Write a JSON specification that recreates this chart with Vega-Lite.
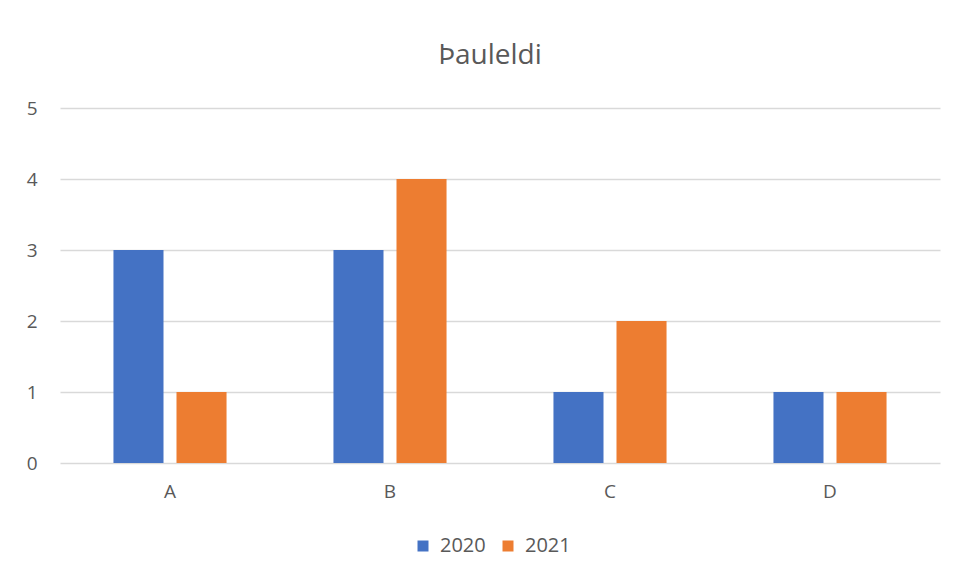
{
  "$schema": "https://vega.github.io/schema/vega-lite/v6.json",
  "width": 880,
  "height": 355,
  "autosize": {"type": "none"},
  "padding": {"left": 60, "top": 108, "right": 18, "bottom": 117},
  "background": "white",
  "title": {
    "text": "Þauleldi",
    "fontSize": 28,
    "font": "Open Sans",
    "fontWeight": "normal",
    "color": "#595959",
    "anchor": "middle",
    "offset": 29,
    "dx": -10
  },
  "data": {
    "values": [
      {"cat": "A", "year": "2020", "value": 3},
      {"cat": "A", "year": "2021", "value": 1},
      {"cat": "B", "year": "2020", "value": 3},
      {"cat": "B", "year": "2021", "value": 4},
      {"cat": "C", "year": "2020", "value": 1},
      {"cat": "C", "year": "2021", "value": 2},
      {"cat": "D", "year": "2020", "value": 1},
      {"cat": "D", "year": "2021", "value": 1}
    ]
  },
  "mark": {"type": "bar"},
  "encoding": {
    "x": {
      "field": "cat",
      "type": "nominal",
      "scale": {"paddingInner": 0.486, "paddingOuter": 0.243},
      "axis": {
        "title": null,
        "labelAngle": 0,
        "ticks": false,
        "domain": false,
        "labelPadding": 19,
        "labelFontSize": 19,
        "labelFont": "Open Sans",
        "labelColor": "#595959"
      }
    },
    "xOffset": {
      "field": "year",
      "type": "nominal",
      "scale": {"paddingInner": 0.206, "paddingOuter": 0}
    },
    "y": {
      "field": "value",
      "type": "quantitative",
      "scale": {"domain": [0, 5]},
      "axis": {
        "title": null,
        "values": [0, 1, 2, 3, 4, 5],
        "grid": true,
        "gridColor": "#d9d9d9",
        "gridWidth": 1.5,
        "ticks": false,
        "domain": false,
        "labelPadding": 23,
        "labelFontSize": 19,
        "labelFont": "Open Sans",
        "labelColor": "#595959"
      }
    },
    "color": {
      "field": "year",
      "type": "nominal",
      "scale": {"domain": ["2020", "2021"], "range": ["#4472C4", "#ED7D31"]},
      "legend": {
        "title": null,
        "orient": "none",
        "direction": "horizontal",
        "legendX": 353,
        "legendY": 428,
        "symbolType": "square",
        "symbolSize": 121,
        "symbolStrokeWidth": 0,
        "labelFontSize": 20,
        "labelFont": "Open Sans",
        "labelColor": "#595959",
        "columnPadding": 12,
        "labelOffset": 7
      }
    }
  },
  "config": {
    "view": {"stroke": null}
  }
}
